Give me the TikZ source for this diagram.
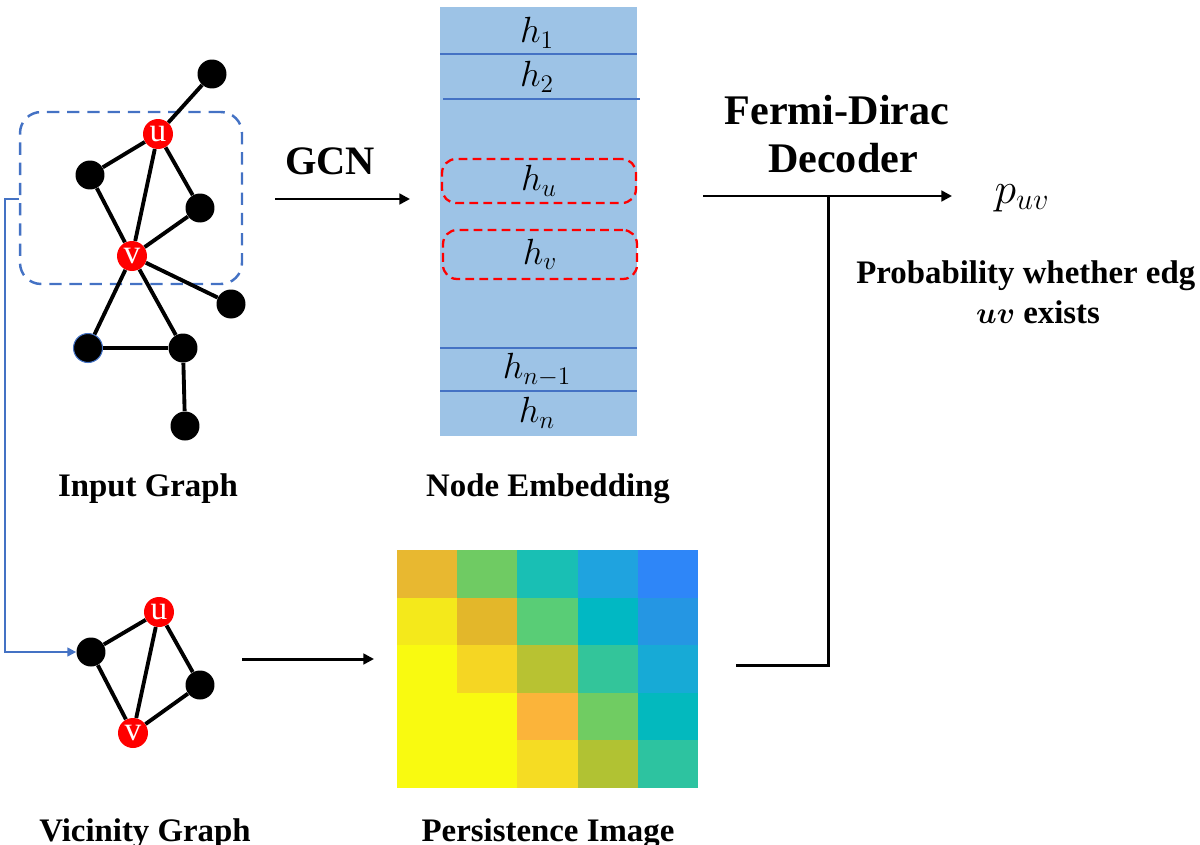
\documentclass[tikz,border=0pt]{standalone}
\usepackage{fontspec}
\setmainfont{Liberation Serif}
\usepackage{bm}
\usetikzlibrary{arrows.meta}
\definecolor{boxblue}{HTML}{4472C4}
\definecolor{embfill}{HTML}{9DC3E6}
\definecolor{nodered}{HTML}{FF0000}
\begin{document}
\begin{tikzpicture}[x=0.02cm,y=-0.02cm,
  gnode/.style={circle,fill=black,minimum size=0.58cm,inner sep=0pt},
  rnode/.style={circle,fill=nodered,minimum size=0.6cm,inner sep=0pt,text=white,font=\fontsize{19}{19}\selectfont},
  gedge/.style={line width=2.2pt},
  flow/.style={line width=1.7pt,-{Triangle[length=6pt,width=6pt]}},
  lbl/.style={font=\fontsize{18.7}{22}\selectfont\bfseries,anchor=base,inner sep=0pt},
  hlbl/.style={font=\fontsize{20}{22}\selectfont,inner sep=0pt},
  sepline/.style={draw=boxblue,line width=1.3pt},
  hbox/.style={draw=red,dashed,dash pattern=on 5pt off 3pt,line width=1.3pt,rounded corners=8pt,minimum width=3.88cm,inner sep=0pt},
  blueconn/.style={draw=boxblue,line width=1.1pt,-{Triangle[length=5pt,width=5pt]}}
]
\useasboundingbox (0,0) rectangle (1200,845);

% ---------- Input graph ----------
\node[draw=boxblue,dashed,dash pattern=on 7pt off 4.5pt,line width=1.4pt,rounded corners=12pt,
      minimum width=4.44cm,minimum height=3.44cm,inner sep=0pt] (vbox) at (131,198) {};
\node[gnode] (a) at (212,74) {};
\node[rnode] (u) at (158,134) {u};
\node[gnode] (b) at (90,175) {};
\node[gnode] (c) at (200,208) {};
\node[rnode] (v) at (132,256) {v};
\node[gnode] (d) at (231,304) {};
\node[gnode,draw=boxblue,line width=0.6pt] (e) at (88,348) {};
\node[gnode] (f) at (183,348) {};
\node[gnode] (g) at (185,426) {};
\foreach \s/\t in {a/u,u/b,u/v,u/c,b/v,c/v,v/d,v/e,v/f,e/f,f/g}
  \draw[gedge] (\s) -- (\t);
\node[lbl] (inlbl) at (148,496) {Input Graph};

% ---------- Vicinity graph ----------
\node[rnode] (vu) at (159,612) {u};
\node[gnode] (vb) at (91,652) {};
\node[gnode] (vc) at (200,685) {};
\node[rnode] (vv) at (133,733) {v};
\foreach \s/\t in {vu/vb,vu/vv,vu/vc,vb/vv,vc/vv}
  \draw[gedge] (\s) -- (\t);
\node[lbl] (vilbl) at (145,841) {Vicinity Graph};

% blue connector from box to vicinity graph
\coordinate (bc0) at (vbox.west |- 0,199);
\draw[blueconn] (bc0) -- (5,199) |- (vb.west);

% ---------- GCN ----------
\coordinate (gcn0) at (275,199);
\coordinate (gcn1) at (410,199);
\draw[flow] (gcn0) -- (gcn1);
\node[font=\fontsize{23}{26}\selectfont\bfseries,anchor=base,inner sep=0pt] (gcn) at (330,174) {GCN};

% ---------- Node embedding ----------
\fill[embfill] (440,7) rectangle (637,436);
\draw[sepline] (440,54) -- (637,54);
\draw[sepline] (443,99) -- (640,99);
\draw[sepline] (440,348) -- (637,348);
\draw[sepline] (440,391) -- (637,391);
\node[hlbl] (h1) at (537,33) {$h_1$};
\node[hlbl] (h2) at (537,77) {$h_2$};
\node[hbox,minimum height=0.88cm] (hu) at (539,181) {};
\node[hlbl] at (hu) {$h_u$};
\node[hbox,minimum height=0.98cm] (hv) at (540,254.5) {};
\node[hlbl] at (hv) {$h_v$};
\node[hlbl] (hn1) at (537,370) {$h_{n-1}$};
\node[hlbl] (hn) at (537,413) {$h_n$};
\node[lbl] (emblbl) at (548,496) {Node Embedding};

% ---------- Persistence image ----------
\foreach [count=\j from 0] \row in {
  {E8B830,6FCB63,19BFB4,1FA3DF,2E86F8},
  {F4E91B,E3B72A,59CD76,01B8C3,2596E3},
  {F9FA10,F5D623,B8C232,33C59A,17AAD6},
  {F9FA10,F9FA10,FBB43A,70CC62,03B9BE},
  {F9FA10,F9FA10,F5DC23,B1C233,2DC3A0}}{
  \foreach [count=\i from 0] \c in \row {
    \definecolor{cellc}{HTML}{\c}
    \fill[cellc] (397+60.2*\i,550+47.6*\j) rectangle ++(60.5,47.9);
  }
}
\node[lbl] (pilbl) at (548,841) {Persistence Image};
\coordinate (pi0) at (242,659);
\coordinate (pi1) at (374,659);
\draw[flow] (pi0) -- (pi1);

% ---------- Decoder ----------
\coordinate (dec0) at (703,196);
\coordinate (dec1) at (952,196);
\coordinate (junc) at (828,196);
\coordinate (pbot) at (828,665);
\coordinate (pst) at (736,665);
\draw[flow] (dec0) -- (dec1);
\draw[line width=1.7pt] (pst) -- (pbot) -- (junc);
\node[font=\fontsize{24}{27}\selectfont\bfseries,anchor=base,inner sep=0pt] (fd) at (837,124) {Fermi-Dirac};
\node[font=\fontsize{24}{27}\selectfont\bfseries,anchor=base,inner sep=0pt] (dc) at (843,172) {Decoder};
\node[font=\fontsize{26}{28}\selectfont,inner sep=0pt] (puv) at (1022,198) {$p_{uv}$};
\node[lbl,anchor=base west] (prob) at (856,283) {Probability whether edg};
\node[lbl] (exists) at (1038,323) {$\bm{uv}$ exists};
\end{tikzpicture}
\end{document}
